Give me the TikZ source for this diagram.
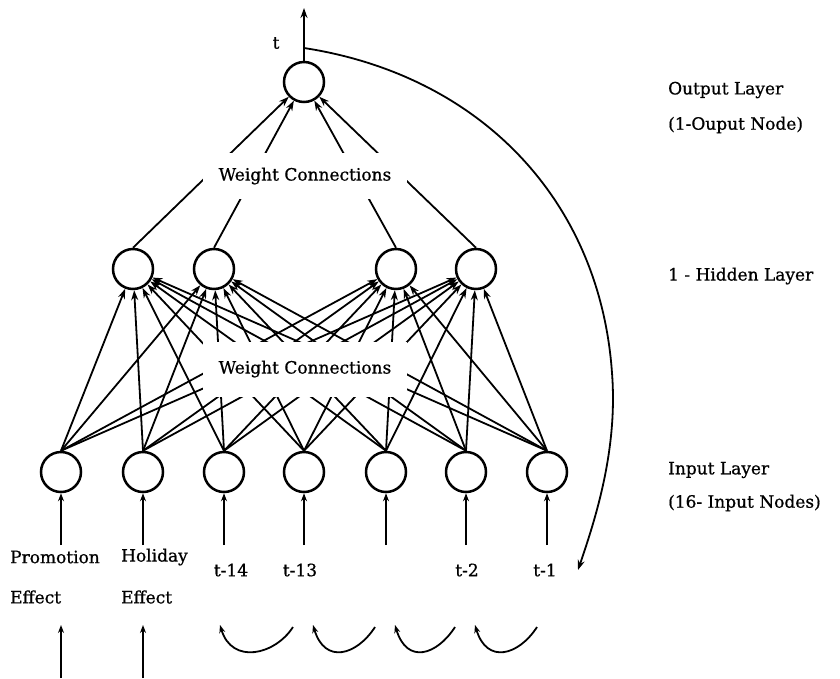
\documentclass[tikz,border=0pt]{standalone}
\usepackage{fontspec}
\setmainfont{DejaVu Serif}
\newfontfamily\lblfont{DejaVu Serif}[FakeBold=0.8]
\usetikzlibrary{arrows.meta}
\begin{document}
\begin{tikzpicture}[x=1pt,y=-1pt,
  neuron/.style={circle,draw,line width=2.5pt,minimum size=40pt,inner sep=0pt},
  conn/.style={line width=1.8pt,-{Stealth[length=10pt,width=7pt]}},
  plainarr/.style={line width=1.8pt,-{Stealth[length=8pt,width=6pt]}},
  lbl/.style={font=\lblfont\fontsize{17}{20}\selectfont,inner sep=0pt},
  wbox/.style={fill=white,inner sep=0pt,minimum width=204pt,font=\lblfont\fontsize{17}{20}\selectfont}
]
\useasboundingbox (0,0) rectangle (840,678);
% nodes
\node[neuron] (out) at (304,82) {};
\foreach \n/\x in {1/133,2/214,3/396,4/476} \node[neuron] (h\n) at (\x,269) {};
\foreach \n/\x in {1/61,2/143,3/224,4/304,5/386,6/466,7/547} \node[neuron] (i\n) at (\x,472) {};
% connections input -> hidden
\foreach \a in {1,...,7} \foreach \b in {1,...,4} \draw[conn] (i\a.north) -- (h\b);
% hidden -> output
\foreach \b in {1,...,4} \draw[conn] (h\b.north) -- (out);
% label boxes
\node[wbox,minimum height=46pt] (wc1) at (305,176) {\raisebox{-2pt}{Weight Connections}\hspace{12pt}};
\node[wbox,minimum height=55pt] (wc2) at (305,369) {Weight Connections\hspace{12pt}};
% output arrow
\coordinate (top) at (304,8);
\coordinate (br) at (304,48);
\coordinate (mid) at (612,373);
\coordinate (fb) at (578,570);
\draw[conn] (out) -- (top);
\draw[conn] (br) .. controls (480,75) and (600,200) .. (mid) .. controls (618,450) and (595,520) .. (fb);
\node[lbl] (tl) at (276,43) {t};
% input arrows
\foreach \n/\x in {1/61,2/143,3/224,4/304,5/386,6/466,7/547} {
  \coordinate (s\n) at (\x,545);
  \draw[plainarr] (s\n) -- (i\n);
}
% input labels
\node[lbl,anchor=west] (pr1) at (10,557) {Promotion};
\node[lbl,anchor=west] (pr2) at (10,597) {Effect};
\node[lbl,anchor=west] (ho1) at (121,557) {Holiday};
\node[lbl,anchor=west] (ho2) at (121,597) {Effect};
\node[lbl] (t14) at (231,570) {t-14};
\node[lbl] (t13) at (300,570) {t-13};
\node[lbl] (t2) at (467,570) {t-2};
\node[lbl] (t1) at (545,570) {t-1};
% bottom arrows
\coordinate (pb) at (61,678); \coordinate (pe) at (61,625);
\coordinate (hb) at (143,678); \coordinate (he) at (143,625);
\draw[plainarr] (pb) -- (pe);
\draw[plainarr] (hb) -- (he);
% shift arcs
\foreach \k/\R/\L in {1/293/220,2/375/313,3/455/395,4/537/475} {
  \coordinate (ar\k) at (\R,627);
  \coordinate (al\k) at (\L,625);
  \draw[plainarr] (ar\k) .. controls (\R-18,655) and (\L+12,665) .. (al\k);
}
% layer labels
\node[lbl,anchor=west] (ol1) at (668,90) {Output Layer};
\node[lbl,anchor=west] (ol2) at (668,125) {(1-Ouput Node)};
\node[lbl,anchor=west] (hl) at (668,276) {1 - Hidden Layer};
\node[lbl,anchor=west] (il1) at (668,470) {Input Layer};
\node[lbl,anchor=west] (il2) at (668,503) {(16- Input Nodes)};
\end{tikzpicture}
\end{document}
